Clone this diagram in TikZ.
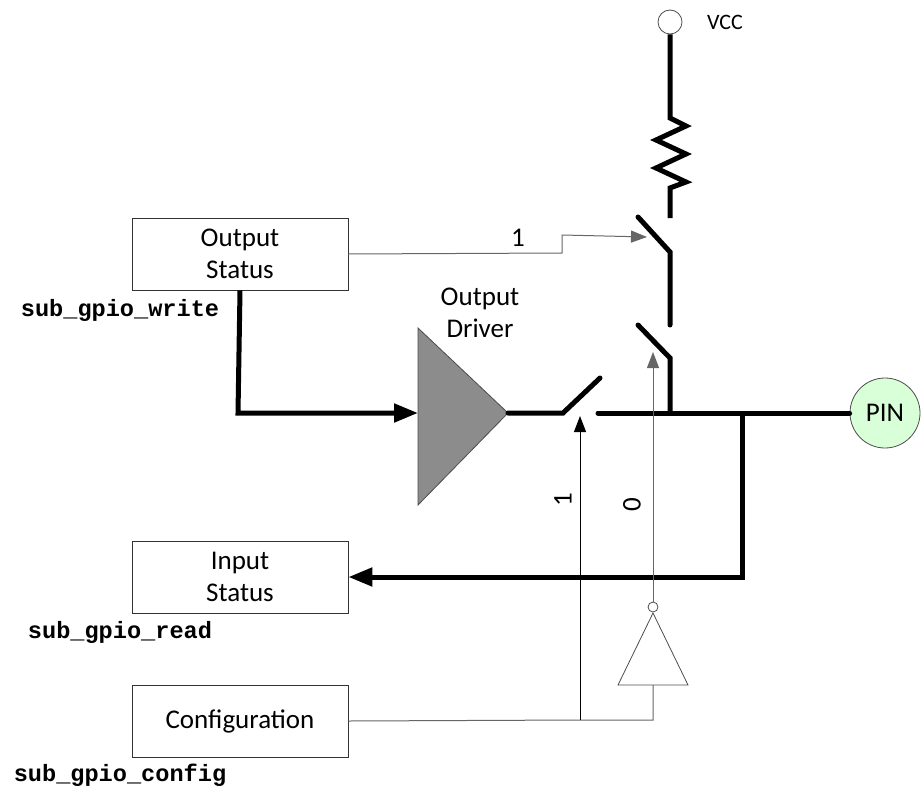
\documentclass[tikz,border=0pt]{standalone}
\usepackage{fontspec}
\setmainfont{Carlito}
\newfontfamily\codefont{Liberation Mono}
\usetikzlibrary{arrows.meta}
\tikzset{
  blk/.style={draw=black!80, minimum width=108pt, minimum height=36pt, align=center, font=\fontsize{13.5}{16}\selectfont},
  code/.style={font=\codefont\bfseries\fontsize{11.8}{13}\selectfont},
  wire/.style={line width=2.5pt},
  sig/.style={draw=black!60, line width=0.5pt},
}
\begin{document}
\begin{tikzpicture}[x=0.5pt, y=-0.5pt, font=\fontsize{13.5}{16}\selectfont]
\useasboundingbox (0,0) rectangle (924,802);
% boxes
\node[blk] (outst) at (240,254) {Output\\Status};
\node[blk] (inst) at (240,577) {Input\\Status};
\node[blk] (conf) at (240,721) {Configuration};
\node[code] (wr) at (120,310) {sub\_gpio\_write};
\node[code] (rd) at (120,632) {sub\_gpio\_read};
\node[code] (cf) at (120,775) {sub\_gpio\_config};
% supply
\node[circle, draw=black!70, minimum size=12pt, inner sep=0pt] (vcc) at (670,22) {};
\node[font=\fontsize{11}{13}\selectfont] (vcclbl) at (725,22) {VCC};
\coordinate (rtop) at (670,110);
\coordinate (swtop) at (670,218);
\draw[wire] (vcc) -- (rtop) -- (670,118) -- (686,126) -- (656,140) -- (686,154) -- (656,168) -- (686,182) -- (670,188) -- (swtop);
% switches
\coordinate (hi) at (670,252);
\coordinate (lo) at (670,358);
\draw[wire, line cap=round] (638,217) -- (hi) -- (670,325);
\draw[wire, line cap=round] (638,325) -- (lo) -- (670,413);
% driver
\coordinate (drvin) at (418,413);
\coordinate (drvout) at (508,413);
\draw[draw=black!70, fill=black!45] (418,328) -- (drvout) -- (418,505) -- cycle;
\node[align=center] (drvlbl) at (480,313) {Output\\Driver};
\coordinate (dsw) at (563,413);
\draw[wire, line cap=round] (drvout) -- (dsw) -- (600,378);
\coordinate (tap) at (742,413);
\node[circle, draw=black!70, fill=green!15, minimum size=35pt, inner sep=0pt] (pin) at (885,413) {PIN};
\draw[wire, line cap=round] (598,413) -- (pin);
% data path
\draw[wire, -{Triangle[length=12pt,width=9pt]}] (outst.south) -- (238,413) -- (drvin);
\draw[wire, -{Triangle[length=12pt,width=9pt]}] (tap) -- (742,577) -- (inst.east);
% control
\coordinate (invin) at (653,685);
\draw[draw=black!70] (618,685) -- (688,685) -- (653,613) -- cycle;
\node[circle, draw=black!70, minimum size=5pt, inner sep=0pt] (bub) at (653,607) {};
\coordinate (jn) at (580,720);
\draw[sig] (conf.east) -- (jn) -- (653,720) -- (invin);
\draw[sig, -{Triangle[length=8pt,width=6pt]}, draw=black] (jn) -- (580,416);
\draw[sig, -{Triangle[length=8pt,width=6pt]}] (bub) -- (653,352);
\node[rotate=90] (one) at (563,500) {1};
\node[rotate=90] (zero) at (632,505) {0};
\draw[sig, -{Triangle[length=8pt,width=6pt]}] (outst.east) -- (562,253) -- (562,235) -- (647,237);
\node (onehi) at (518,238) {1};
\end{tikzpicture}
\end{document}
